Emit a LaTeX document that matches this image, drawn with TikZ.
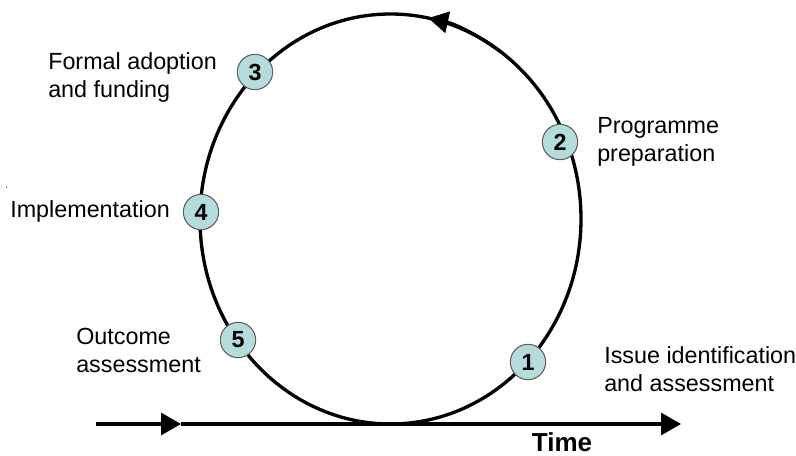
\documentclass[tikz,border=0pt]{standalone}
\usepackage{fontspec}
\setmainfont{Liberation Sans}
\usetikzlibrary{arrows.meta}
\definecolor{dotfill}{RGB}{180,220,220}
\definecolor{dotrim}{RGB}{95,95,95}
\tikzset{
  cycleline/.style={line width=2.5},
  timeline/.style={line width=2.5},
  numdot/.style={circle, draw=dotrim, line width=0.8, fill=dotfill, minimum size=26.5pt, inner sep=0pt, font=\fontsize{17.5}{17.5}\selectfont\bfseries},
  stage/.style={anchor=west, align=left, inner sep=0pt, font=\fontsize{17.5}{21}\selectfont},
}

\begin{document}
\begin{tikzpicture}[x=0.75pt,y=0.75pt,yscale=-1,xscale=1]
\useasboundingbox (0,0) rectangle (796,456);

%Time axis
\coordinate (tstart) at (96,424);
\coordinate (tmid) at (181,424);
\coordinate (tend) at (681,424);
\draw [timeline, -{Triangle[length=15pt,width=16.5pt]}] (tstart) -- (tmid);
\draw [timeline, -{Triangle[length=15pt,width=16.5pt]}] (tmid) -- (tend);

%Policy cycle
\coordinate (hub) at (390.5,219);
\coordinate (arcfrom) at (499.8,51.1);
\draw [cycleline] (hub) ellipse [x radius=190.5, y radius=205];
\draw [cycleline, -{Triangle[length=15pt,width=16pt]}] (arcfrom) arc [start angle=-55, end angle=-78.6, x radius=190.5, y radius=205];

%Stages
\node [numdot] (s1) at (528,362) {1};
\node [numdot] (s2) at (560,142) {2};
\node [numdot] (s3) at (255,72) {3};
\node [numdot] (s4) at (201,212) {4};
\node [numdot] (s5) at (238,340) {5};

% Text Nodes
\node [stage] (t1) at (604,369) {Issue identification\\and assessment};
\node [stage] (t2) at (597,142) {Programme\\preparation};
\node [stage] (t3) at (48,77) {Formal adoption\\and funding};
\node [stage] (t4) at (10,211) {Implementation};
\node [stage] (t5) at (76,350) {Outcome\\assessment};
\node [font=\fontsize{19.5}{20}\selectfont\bfseries, inner sep=0pt] (tlabel) at (562,442) {Time};

%stray mark
\fill [gray] (5.5,186.5) rectangle (7,188);

\end{tikzpicture}
\end{document}
